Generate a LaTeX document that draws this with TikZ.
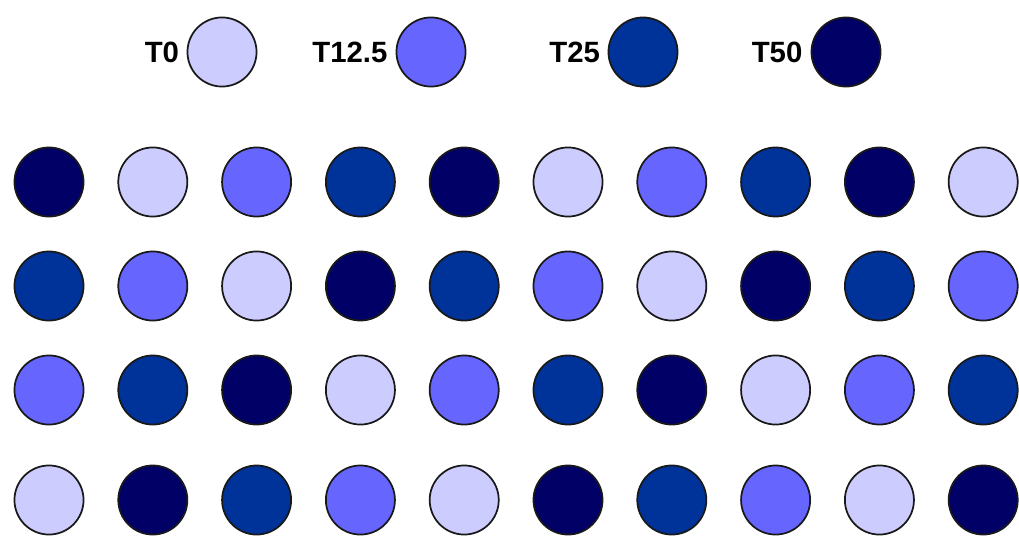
\documentclass[tikz,border=0pt]{standalone}
\usepackage{fontspec}
\setmainfont{Liberation Sans}
\usepackage{tikz}
\usetikzlibrary{positioning}
\definecolor{t0}{HTML}{CCCCFF}
\definecolor{t125}{HTML}{6666FF}
\definecolor{t25}{HTML}{003399}
\definecolor{t50}{HTML}{000066}
\tikzset{
  dot/.style={circle,draw=black!90,line width=1.3pt,minimum size=51.8pt,inner sep=0pt},
  tag/.style={font=\fontsize{22}{26}\selectfont\bfseries,inner sep=1pt},
}
\begin{document}
\begin{tikzpicture}[x=0.75pt,y=-0.75pt]
  \useasboundingbox (0,0) rectangle (1019,535);
  % legend
  \node[dot,fill=t0]   (leg0)  at (222,52) {};
  \node[dot,fill=t125] (leg125) at (431,52) {};
  \node[dot,fill=t25]  (leg25) at (643,52) {};
  \node[dot,fill=t50]  (leg50) at (846,52) {};
  \node[tag,left=4.5pt of leg0]   {T0};
  \node[tag,left=5pt of leg125]   {T12.5};
  \node[tag,left=4.5pt of leg25]  {T25};
  \node[tag,left=5pt of leg50]    {T50};
  % plots
  \foreach \c [count=\k from 0] in {50,0,125,25,50,0,125,25,50,0}
    \node[dot,fill=t\c] (p1\k) at ({49+103.8*\k},182) {};
  \foreach \c [count=\k from 0] in {25,125,0,50,25,125,0,50,25,125}
    \node[dot,fill=t\c] (p2\k) at ({49+103.8*\k},286) {};
  \foreach \c [count=\k from 0] in {125,25,50,0,125,25,50,0,125,25}
    \node[dot,fill=t\c] (p3\k) at ({49+103.8*\k},390) {};
  \foreach \c [count=\k from 0] in {0,50,25,125,0,50,25,125,0,50}
    \node[dot,fill=t\c] (p4\k) at ({49+103.8*\k},500) {};
\end{tikzpicture}
\end{document}
